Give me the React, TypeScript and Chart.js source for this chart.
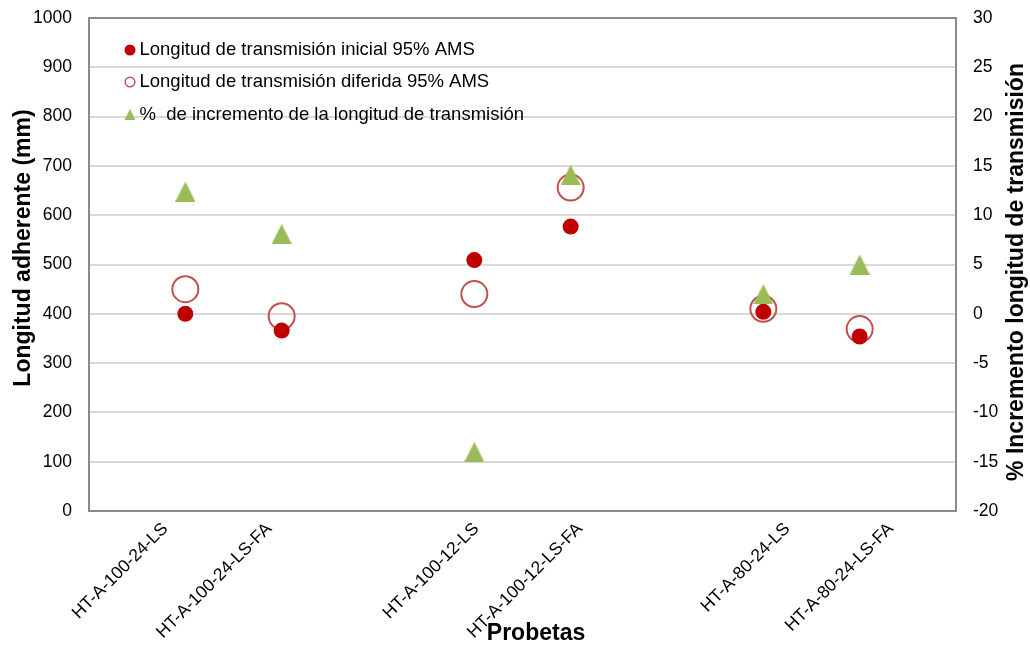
import React, { useEffect, useRef } from 'react';
import { Chart, registerables } from 'chart.js';

Chart.register(...registerables);

// ---- data ----
const categories = [
  '',
  'HT-A-100-24-LS',
  'HT-A-100-24-LS-FA',
  '',
  'HT-A-100-12-LS',
  'HT-A-100-12-LS-FA',
  '',
  'HT-A-80-24-LS',
  'HT-A-80-24-LS-FA',
  '',
];
const inicial = [null, 400, 366, null, 509, 577, null, 404, 354, null];
const diferida = [null, 450, 395, null, 440, 656, null, 410, 369, null];
const incremento = [null, 12.4, 8.1, null, -14.0, 14.1, null, 2.0, 5.0, null];

const seriesNames = [
  'Longitud de transmisión inicial 95% AMS',
  'Longitud de transmisión diferida 95% AMS',
  '%  de incremento de la longitud de transmisión',
];
const leftTitle = 'Longitud adherente (mm)';
const rightTitle = '% Incremento longitud de transmisión';
const xTitle = 'Probetas';

const FONT = "'Liberation Sans', Arial, Helvetica, sans-serif";
const RED = '#C00000';
const RING = '#C0504D';
const GREEN = '#9BBB59';

function makeTriangle(w: number, h: number): HTMLCanvasElement {
  const c = document.createElement('canvas');
  c.width = w;
  c.height = h;
  const g = c.getContext('2d')!;
  g.fillStyle = GREEN;
  g.beginPath();
  g.moveTo(w / 2, 0);
  g.lineTo(w, h);
  g.lineTo(0, h);
  g.closePath();
  g.fill();
  return c;
}

const decoPlugin = {
  id: 'deco',
  beforeDatasetsDraw(chart: any) {
    const { ctx, chartArea: a } = chart;
    ctx.save();
    ctx.strokeStyle = '#8A8A8A';
    ctx.lineWidth = 2;
    ctx.strokeRect(a.left, a.top, a.right - a.left, a.bottom - a.top);
    ctx.restore();
  },
  afterDraw(chart: any) {
    const { ctx, chartArea: a } = chart;
    const xs = chart.scales.x;
    ctx.save();

    // category labels, rotated 45 degrees (slightly wider spread than the marks, as in the original)
    ctx.fillStyle = '#000';
    ctx.font = `17.5px ${FONT}`;
    ctx.textAlign = 'right';
    ctx.textBaseline = 'middle';
    const first = xs.getPixelForValue(1);
    categories.forEach((lab, i) => {
      if (!lab) return;
      const px = xs.getPixelForValue(i);
      const ax = first + (px - first) * 1.076 - 20;
      ctx.save();
      ctx.translate(ax, a.bottom + 15);
      ctx.rotate(-Math.PI / 4);
      ctx.fillText(lab, 0, 0);
      ctx.restore();
    });

    ctx.font = `bold 23px ${FONT}`;
    ctx.textAlign = 'center';
    ctx.textBaseline = 'alphabetic';

    ctx.save();
    ctx.translate(29.5, 248);
    ctx.rotate(-Math.PI / 2);
    ctx.fillText(leftTitle, 0, 0);
    ctx.restore();

    ctx.save();
    ctx.translate(1023, 272);
    ctx.rotate(-Math.PI / 2);
    ctx.fillText(rightTitle, 0, 0);
    ctx.restore();

    ctx.fillText(xTitle, 536, 640);

    // legend
    const mx = a.left + 41;
    const rows = [a.top + 32, a.top + 64, a.top + 97];
    ctx.font = `18.5px ${FONT}`;
    ctx.textAlign = 'left';
    ctx.textBaseline = 'middle';
    seriesNames.forEach((name, i) => {
      const y = rows[i];
      if (i === 0) {
        ctx.fillStyle = RED;
        ctx.beginPath();
        ctx.arc(mx, y, 5.5, 0, Math.PI * 2);
        ctx.fill();
      } else if (i === 1) {
        ctx.strokeStyle = RING;
        ctx.lineWidth = 1.5;
        ctx.beginPath();
        ctx.arc(mx, y, 4.8, 0, Math.PI * 2);
        ctx.stroke();
      } else {
        ctx.fillStyle = GREEN;
        ctx.beginPath();
        ctx.moveTo(mx, y - 6);
        ctx.lineTo(mx + 5.5, y + 5);
        ctx.lineTo(mx - 5.5, y + 5);
        ctx.closePath();
        ctx.fill();
      }
      ctx.fillStyle = '#000';
      ctx.fillText(name, mx + 9.5, y);
    });
    ctx.restore();
  },
};

export default function App() {
  const ref = useRef<HTMLCanvasElement | null>(null);

  useEffect(() => {
    if (!ref.current) return;
    const tri = makeTriangle(20, 20);
    const chart = new Chart(ref.current, {
      type: 'line',
      data: {
        labels: categories,
        datasets: [
          {
            label: seriesNames[0],
            data: inicial as any,
            yAxisID: 'y',
            showLine: false,
            pointStyle: 'circle',
            pointRadius: 8,
            pointBorderWidth: 0,
            pointBackgroundColor: RED,
            pointBorderColor: RED,
            order: 1,
          },
          {
            label: seriesNames[1],
            data: diferida as any,
            yAxisID: 'y',
            showLine: false,
            pointStyle: 'circle',
            pointRadius: 13,
            pointBorderWidth: 2,
            pointBackgroundColor: 'rgba(0,0,0,0)',
            pointBorderColor: RING,
            order: 2,
          },
          {
            label: seriesNames[2],
            data: incremento as any,
            yAxisID: 'y1',
            showLine: false,
            pointStyle: tri as any,
            pointRadius: 10,
            order: 0,
          },
        ],
      },
      options: {
        responsive: false,
        animation: false,
        devicePixelRatio: 1,
        layout: { padding: { top: 18, left: 0, right: 0, bottom: 0 } },
        plugins: {
          legend: { display: false },
          tooltip: { enabled: false },
        },
        scales: {
          x: {
            type: 'category',
            offset: false,
            grid: { display: false, drawTicks: false },
            border: { display: false },
            ticks: { display: false, autoSkip: false },
            afterFit: (s: any) => {
              s.height = 134;
              s.paddingLeft = 0;
              s.paddingRight = 0;
            },
          },
          y: {
            position: 'left',
            min: 0,
            max: 1000,
            ticks: {
              stepSize: 100,
              padding: 17,
              color: '#000',
              font: { family: FONT, size: 17.5 },
              callback: (v: any) => String(v),
            },
            grid: { color: '#D9D9D9', lineWidth: 2, drawTicks: false },
            border: { display: false },
            afterFit: (s: any) => {
              s.width = 89;
              s.paddingTop = 0;
              s.paddingBottom = 0;
            },
          },
          y1: {
            position: 'right',
            min: -20,
            max: 30,
            ticks: {
              stepSize: 5,
              padding: 17,
              color: '#000',
              font: { family: FONT, size: 17.5 },
              callback: (v: any) => String(v),
            },
            grid: { display: false, drawTicks: false },
            border: { display: false },
            afterFit: (s: any) => {
              s.width = 74;
              s.paddingTop = 0;
              s.paddingBottom = 0;
            },
          },
        },
      },
      plugins: [decoPlugin],
    });
    return () => chart.destroy();
  }, []);

  return (
    <div style={{ position: 'fixed', left: 0, top: 0, width: 1030, height: 645, background: '#fff' }}>
      <canvas ref={ref} width={1030} height={645} style={{ display: 'block' }} />
    </div>
  );
}
